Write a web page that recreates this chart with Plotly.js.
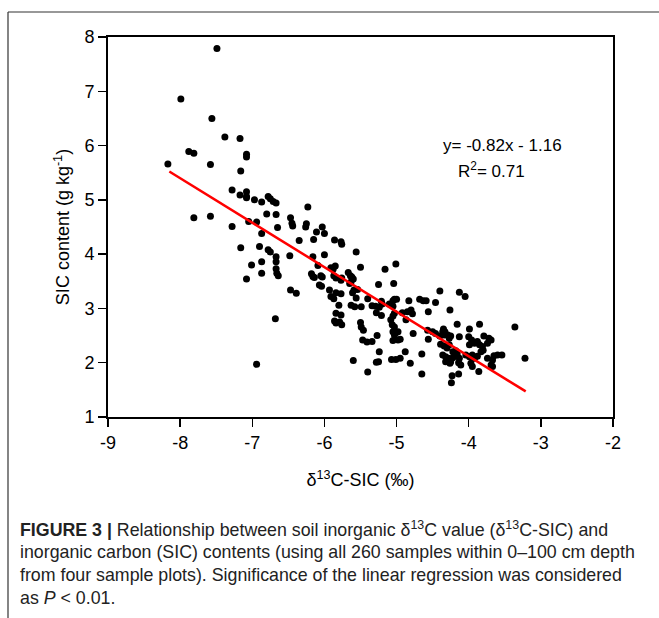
<!DOCTYPE html>
<html>
<head>
<meta charset="utf-8">
<script src="https://cdn.plot.ly/plotly-3.0.1.min.js"></script>
<style>
html,body{margin:0;padding:0;background:#fff;}
#chart{width:659px;height:618px;}
</style>
</head>
<body>
<div id="chart"></div>
<script>
// δ13C-SIC (‰)
const d13C = [
-7.49,-7.99,-7.56,-7.38,-7.17,-7.88,-7.81,-8.17,-7.58,-7.08,-7.08,-7.16,-7.28,-7.17,-7.08,-7.08,-7.08,-6.97,-6.87,-6.78,-6.75,-6.71,-6.67,-6.80,-6.67,-6.47,-7.81,-7.58,
-6.45,-6.44,-7.28,-7.05,-6.94,-6.87,-6.65,-6.35,-7.16,-6.90,-6.78,-6.75,-6.48,-6.67,-6.67,-6.87,-7.01,-6.67,-6.66,-6.64,-6.87,-7.08,-6.47,-6.39,-6.68,-6.94,
-6.23,-6.25,-6.26,-6.03,-6.11,-6.00,-6.15,-5.86,-5.77,-5.76,-6.16,-6.00,-5.56,-6.09,-5.91,-5.88,-5.85,-5.50,-6.18,-6.16,-6.14,-6.05,-6.03,-5.87,-5.84,-5.76,
-5.77,-5.67,-5.64,-5.62,-5.60,-5.65,-5.63,-6.07,-6.04,-5.93,-5.84,-5.77,-5.59,-5.61,-5.54,-5.25,-5.16,-5.01,-5.04,-5.91,-5.87,-5.56,-5.40,-5.80,-5.63,-5.58,
-5.49,-5.34,-5.29,-5.24,-5.21,-5.20,-5.05,-5.03,-5.00,-5.10,-5.05,-4.83,-4.68,-4.63,-4.59,-4.46,-4.40,-5.84,-5.77,-5.28,-5.21,-5.03,-5.05,-4.92,-4.85,-4.80,
-4.78,-4.87,-5.86,-5.84,-5.79,-5.76,-5.50,-5.49,-5.46,-5.08,-5.06,-5.03,-5.05,-5.01,-5.03,-4.98,-4.77,-4.57,-4.50,-4.46,-4.36,-4.34,-5.47,-5.41,-5.34,-5.27,
-5.05,-4.98,-4.95,-4.56,-5.24,-4.88,-5.07,-5.01,-4.95,-5.60,-5.28,-5.25,-4.81,-4.65,-5.40,-4.65,
-4.13,-4.05,-4.56,-4.26,-3.36,-3.22,-4.40,-4.35,-4.33,-4.29,-4.27,-4.25,-4.16,-4.13,-3.99,-3.85,-4.39,-4.34,-4.30,-4.27,-4.22,-4.18,-4.16,-4.36,-4.32,-4.28,
-4.25,-4.22,-4.32,-4.26,-4.13,-4.14,-4.11,-4.00,-3.96,-3.99,-3.92,-3.88,-3.85,-3.81,-3.79,-3.72,-3.69,-3.74,-4.04,-3.99,-3.95,-3.92,-3.88,-3.97,-3.95,-3.86,
-3.83,-3.80,-3.74,-3.67,-3.65,-3.60,-3.54,-3.67,-3.69,-4.23,-4.14,-4.24
];
// SIC content (g kg-1)
const sic = [
7.79,6.86,6.50,6.16,6.13,5.89,5.86,5.66,5.65,5.84,5.79,5.53,5.18,5.09,5.15,5.06,5.04,5.00,4.96,5.06,5.02,4.97,4.94,4.74,4.73,4.67,4.67,4.70,
4.57,4.52,4.51,4.60,4.59,4.38,4.49,4.25,4.12,4.14,4.08,4.04,3.97,3.95,3.86,3.86,3.80,3.73,3.65,3.60,3.65,3.54,3.34,3.28,2.81,1.97,
4.87,4.56,4.50,4.50,4.41,4.38,4.27,4.26,4.23,4.18,3.95,3.99,4.04,3.79,3.75,3.72,3.78,3.76,3.64,3.59,3.57,3.60,3.58,3.60,3.56,3.56,
3.52,3.66,3.60,3.58,3.54,3.46,3.49,3.43,3.41,3.34,3.29,3.27,3.34,3.29,3.35,3.44,3.72,3.82,3.46,3.22,3.18,3.19,3.18,3.06,3.06,3.03,
3.03,3.05,3.04,3.02,3.13,3.08,3.14,3.17,3.17,3.08,3.04,3.14,3.17,3.14,3.14,3.11,3.32,2.91,2.88,2.92,2.87,2.91,2.86,2.92,2.94,2.97,
2.90,2.79,2.77,2.73,2.75,2.70,2.74,2.66,2.60,2.79,2.70,2.66,2.57,2.55,2.51,2.57,2.54,2.60,2.57,2.54,2.57,2.51,2.42,2.38,2.39,2.50,
2.41,2.42,2.43,2.43,2.20,2.20,2.06,2.06,2.08,2.04,2.01,2.02,1.99,2.16,1.83,1.79,
3.30,3.22,2.94,2.97,2.66,2.08,2.49,2.62,2.57,2.51,2.45,2.49,2.71,2.48,2.62,2.71,2.34,2.31,2.27,2.33,2.20,2.22,2.16,2.14,2.11,2.08,
2.02,2.09,2.02,1.99,2.08,2.00,1.96,2.48,2.42,2.33,2.36,2.39,2.33,2.30,2.49,2.45,2.42,2.36,2.14,2.11,2.14,2.08,2.12,1.99,1.93,1.84,
2.20,2.23,2.08,2.05,2.13,2.14,2.14,1.93,1.96,1.76,1.79,1.63
];
// Linear fit y = slope*x + intercept
const slope = -0.82;
const intercept = -1.16;
const fitX = [-8.15, -3.21];
const fitY = fitX.map(v => slope * v + intercept);

const xTickVals = [-9,-8,-7,-6,-5,-4,-3,-2];
const xTickText = ["-9","-8","-7","-6","-5","-4","-3","-2"];
const yTickVals = [1,2,3,4,5,6,7,8];
const yTickText = ["1","2","3","4","5","6","7","8"];

const captionLines = [
  "<b>FIGURE 3 |</b> Relationship between soil inorganic δ<sup>13</sup>C value (δ<sup>13</sup>C-SIC) and",
  "inorganic carbon (SIC) contents (using all 260 samples within 0–100 cm depth",
  "from four sample plots). Significance of the linear regression was considered",
  "as <i>P</i> &lt; 0.01."
];
const captionY = [529, 552, 575, 598];

const L = 108, R = 613, T = 37, B = 417;
const px2paperX = p => (p - L) / (R - L);
const px2paperY = p => (B - p) / (B - T);

const font = "Liberation Sans, Arial, sans-serif";

const annotations = [
  {xref:'paper', yref:'paper', x:px2paperX(502), y:px2paperY(145), text:'y= -0.82x - 1.16',
   showarrow:false, xanchor:'center', yanchor:'middle', font:{family:font, size:17, color:'#000'}},
  {xref:'paper', yref:'paper', x:px2paperX(491), y:px2paperY(170), text:'R<sup>2</sup>= 0.71',
   showarrow:false, xanchor:'center', yanchor:'middle', font:{family:font, size:17, color:'#000'}}
];
captionLines.forEach((t, i) => {
  annotations.push({xref:'paper', yref:'paper', x:px2paperX(18), y:px2paperY(captionY[i]), text:t,
    showarrow:false, xanchor:'left', yanchor:'middle', align:'left',
    font:{family:"Liberation Sans Narrow, Arial Narrow, Liberation Sans, sans-serif", size:17.8, color:'#222'}});
});

const shapes = [
  {type:'line', xref:'paper', yref:'paper', x0:px2paperX(8), x1:px2paperX(8), y0:px2paperY(12), y1:px2paperY(620),
   line:{color:'#333', width:1.2}},
  {type:'line', xref:'paper', yref:'paper', x0:px2paperX(8), x1:px2paperX(662), y0:px2paperY(12), y1:px2paperY(12),
   line:{color:'#333', width:1.2}}
];

const traces = [
  {type:'scatter', mode:'markers', x:d13C, y:sic, marker:{color:'#000', size:7}, hoverinfo:'x+y', cliponaxis:false},
  {type:'scatter', mode:'lines', x:fitX, y:fitY, line:{color:'#ff0000', width:2.5}}
];

const layout = {
  width:659, height:618,
  margin:{l:L, r:659-R, t:T, b:618-B},
  paper_bgcolor:'#fff', plot_bgcolor:'#fff',
  showlegend:false,
  font:{family:font, color:'#000'},
  xaxis:{range:[-9,-2], tickvals:xTickVals, ticktext:xTickText, ticks:'outside', ticklen:8, tickwidth:1.5, tickcolor:'#000',
    showline:true, linecolor:'#000', linewidth:2, mirror:true, showgrid:false, zeroline:false,
    tickfont:{family:font, size:18, color:'#000'},
    title:{text:'δ<sup>13</sup>C-SIC (‰)', font:{family:font, size:18, color:'#000'}, standoff:22}, automargin:false},
  yaxis:{range:[1,8], tickvals:yTickVals, ticktext:yTickText, ticks:'outside', ticklen:8, tickwidth:1.5, tickcolor:'#000',
    showline:true, linecolor:'#000', linewidth:2, mirror:true, showgrid:false, zeroline:false,
    tickfont:{family:font, size:18, color:'#000'},
    title:{text:'SIC content (g kg<sup>-1</sup>)', font:{family:font, size:18, color:'#000'}, standoff:10}, automargin:false},
  annotations:annotations,
  shapes:shapes
};

Plotly.newPlot('chart', traces, layout, {displayModeBar:false, staticPlot:true});
</script>
</body>
</html>
